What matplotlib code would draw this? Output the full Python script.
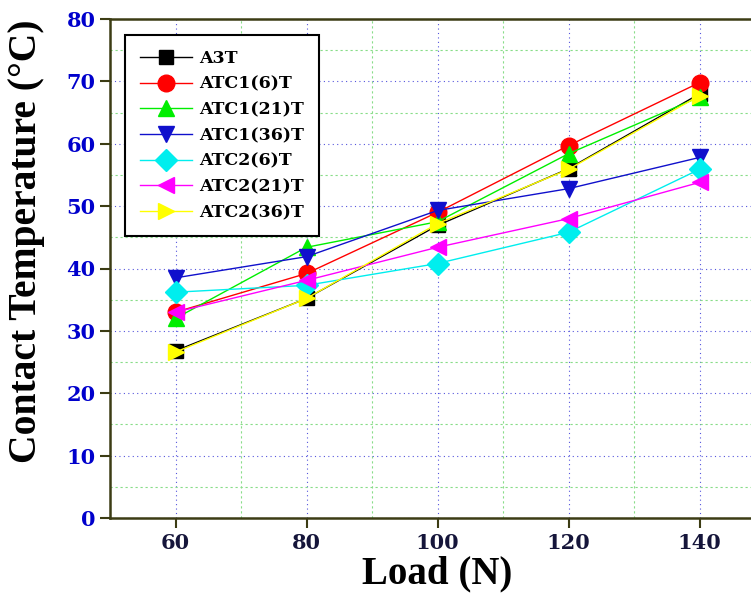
import numpy as np
import matplotlib
matplotlib.use('Agg')
from matplotlib import pyplot as plt
from matplotlib.ticker import MultipleLocator

load = [60, 80, 100, 120, 140]

a3t      = [26.8, 35.2, 46.9, 56.0, 68.0]
atc1_6   = [33.0, 39.2, 49.0, 59.7, 69.8]
atc1_21  = [32.0, 43.4, 47.5, 58.4, 67.5]
atc1_36  = [38.5, 41.9, 49.3, 52.8, 57.8]
atc2_6   = [36.2, 37.3, 40.8, 45.8, 55.9]
atc2_21  = [33.0, 38.1, 43.4, 48.0, 53.8]
atc2_36  = [26.6, 35.2, 47.2, 55.9, 67.7]

series = [a3t, atc1_6, atc1_21, atc1_36, atc2_6, atc2_21, atc2_36]
names  = ['A3T', 'ATC1(6)T', 'ATC1(21)T', 'ATC1(36)T', 'ATC2(6)T', 'ATC2(21)T', 'ATC2(36)T']
colors = ['k', '#ff0000', '#00ee00', '#1010cc', '#00eeee', '#ff00ff', '#ffff00']
marks  = ['s', 'o', '^', 'v', 'D', '<', '>']
msizes = [10, 12, 12, 12, 11, 12, 12]

serif = 'DejaVu Serif'
label_font = 'Liberation Serif'
spine_col = '#3c3c14'

fig = plt.figure(figsize=(7.51, 6.04), dpi=100)
ax = fig.add_axes([110/751, 86/604, 655/751, 499/604])

for y, n, c, m, s in zip(series, names, colors, marks, msizes):
    ax.plot(load, y, color=c, marker=m, markersize=s, linewidth=1, label=n)

ax.set_xlim(50, 150)
ax.set_ylim(0, 80)
ax.xaxis.set_major_locator(MultipleLocator(20))
ax.xaxis.set_minor_locator(MultipleLocator(10))
ax.yaxis.set_major_locator(MultipleLocator(10))
ax.yaxis.set_minor_locator(MultipleLocator(5))

ax.grid(which='major', color='#5555dd', linestyle=(0, (1, 3)), linewidth=0.8)
ax.grid(which='minor', color='#88dd88', linestyle=(0, (2, 2.5)), linewidth=0.8)
ax.set_axisbelow(True)

for sp in ax.spines.values():
    sp.set_color(spine_col)
    sp.set_linewidth(1.8)

ax.tick_params(which='major', direction='out', length=7, width=1.5, color=spine_col)
ax.tick_params(which='minor', length=0)
ax.set_xticks([60, 80, 100, 120, 140])
for lab in ax.get_xticklabels():
    lab.set_fontfamily(serif)
    lab.set_fontweight('bold')
    lab.set_fontsize(15)
    lab.set_color('#15153a')
for lab in ax.get_yticklabels():
    lab.set_fontfamily(serif)
    lab.set_fontweight('bold')
    lab.set_fontsize(15)
    lab.set_color('#0000cc')

ax.set_xlabel('Load (N)', fontfamily=label_font, fontweight='bold', fontsize=28,
              labelpad=2)
ax.set_ylabel('Contact Temperature (°C)', fontfamily=label_font, fontweight='bold',
              fontsize=28.5)
ax.yaxis.set_label_coords(-0.099, 0.555)

leg = ax.legend(loc='upper left', bbox_to_anchor=(0.01, 0.985), fancybox=False,
                framealpha=1, edgecolor='k', borderpad=0.85, labelspacing=0.5,
                handlelength=3.0, handletextpad=0.4,
                prop={'family': serif, 'weight': 'bold', 'size': 12.5})
leg.get_frame().set_linewidth(1.5)

plt.savefig('out.png', dpi=100)
